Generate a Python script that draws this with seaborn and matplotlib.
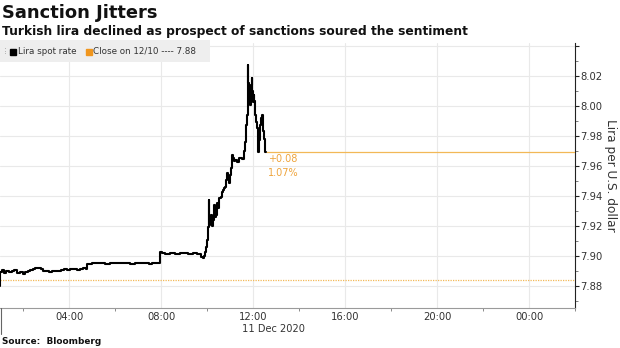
import matplotlib
matplotlib.use('Agg')
import matplotlib.pyplot as plt
import matplotlib.dates as mdates
from matplotlib.lines import Line2D
from matplotlib.patches import Rectangle
from matplotlib.ticker import FixedLocator, MultipleLocator
import seaborn as sns
import pandas as pd

# ---- data (11 Dec 2020, USD/TRY spot) ----
times = ["01:00", "01:01", "01:05", "01:10", "01:16", "01:24", "01:31", "01:37", "01:45", "01:52",
         "02:00", "02:06", "02:12", "02:18", "02:25", "02:32", "02:40", "02:47", "02:53", "03:00",
         "03:08", "03:15", "03:22", "03:30", "03:38", "03:46", "03:55", "04:03", "04:12", "04:20",
         "04:28", "04:36", "04:44", "04:47", "05:00", "05:10", "05:20", "05:34", "05:48", "06:00",
         "06:14", "06:26", "06:40", "06:52", "07:05", "07:18", "07:28", "07:36", "07:45", "07:55",
         "07:57", "08:03", "08:10", "08:17", "08:23", "08:30", "08:36", "08:43", "08:50", "08:57",
         "09:03", "09:10", "09:16", "09:23", "09:29", "09:35", "09:39", "09:44", "09:50", "09:53",
         "09:55", "09:57", "10:00", "10:02", "10:04", "10:06", "10:08", "10:10", "10:13", "10:16",
         "10:19", "10:21", "10:24", "10:27", "10:29", "10:32", "10:36", "10:39", "10:42", "10:44",
         "10:47", "10:50", "10:52", "10:55", "10:57", "11:00", "11:03", "11:05", "11:07", "11:10",
         "11:13", "11:16", "11:19", "11:21", "11:24", "11:26", "11:30", "11:34", "11:37", "11:39",
         "11:42", "11:44", "11:46", "11:47", "11:48", "11:50", "11:52", "11:54", "11:55", "11:57",
         "11:58", "12:00", "12:02", "12:03", "12:05", "12:08", "12:10", "12:13", "12:16", "12:18",
         "12:21", "12:23", "12:26", "12:29", "12:31", "12:34"]
rates = [7.8800, 7.8893, 7.8907, 7.8887, 7.8900, 7.8893, 7.8900, 7.8907, 7.8887, 7.8893,
         7.8880, 7.8890, 7.8900, 7.8907, 7.8913, 7.8920, 7.8917, 7.8910, 7.8900, 7.8897,
         7.8890, 7.8897, 7.8900, 7.8903, 7.8907, 7.8910, 7.8907, 7.8913, 7.8910, 7.8907,
         7.8913, 7.8917, 7.8910, 7.8947, 7.8950, 7.8953, 7.8950, 7.8947, 7.8950, 7.8953,
         7.8950, 7.8953, 7.8947, 7.8950, 7.8953, 7.8950, 7.8947, 7.8950, 7.8953, 7.8950,
         7.9027, 7.9020, 7.9010, 7.9013, 7.9020, 7.9017, 7.9010, 7.9013, 7.9017, 7.9023,
         7.9020, 7.9013, 7.9013, 7.9017, 7.9017, 7.9010, 7.9013, 7.8993, 7.8987, 7.9000,
         7.9027, 7.9060, 7.9107, 7.9193, 7.9373, 7.9207, 7.9250, 7.9273, 7.9200, 7.9240,
         7.9340, 7.9260, 7.9273, 7.9353, 7.9320, 7.9387, 7.9390, 7.9427, 7.9440, 7.9453,
         7.9460, 7.9507, 7.9553, 7.9520, 7.9487, 7.9540, 7.9587, 7.9673, 7.9650, 7.9633,
         7.9640, 7.9640, 7.9627, 7.9627, 7.9650, 7.9653, 7.9647, 7.9647, 7.9700, 7.9760,
         7.9873, 7.9940, 8.0100, 8.0273, 8.0150, 8.0073, 8.0007, 8.0080, 8.0140, 8.0187,
         8.0100, 8.0027, 8.0073, 8.0030, 7.9940, 7.9893, 7.9853, 7.9693, 7.9773, 7.9873,
         7.9920, 7.9940, 7.9833, 7.9780, 7.9693, 7.9693]
close_prev = 7.8843
close_label = "Close on 12/10 ---- 7.88"
series_label = "Lira spot rate"
change_text = "+0.08"
pct_text = "1.07%"
y_ticks = [7.88, 7.90, 7.92, 7.94, 7.96, 7.98, 8.00, 8.02, 8.04]
y_tick_labels = ["7.88", "7.90", "7.92", "7.94", "7.96", "7.98", "8.00", "8.02", ""]
x_start = "2020-12-11 01:00"
x_end = "2020-12-12 02:00"
date_label = "11 Dec 2020"

sns.set_theme(style="white")
plt.rcParams['font.family'] = ['DejaVu Sans']

ORANGE_TXT = '#eea43c'
ORANGE_LINE = '#f2b857'
ORANGE_MARK = '#f0961e'
TXT = '#333333'

df = pd.DataFrame({
    'time': pd.to_datetime(["2020-12-11 " + t for t in times]),
    'rate': rates,
})

W, H = 620, 348
fig = plt.figure(figsize=(W / 100, H / 100), dpi=100)
ax_l, ax_r, ax_t, ax_b = 0, 575, 43, 308
ax = fig.add_axes([ax_l / W, 1 - ax_b / H, (ax_r - ax_l) / W, (ax_b - ax_t) / H])

sns.lineplot(data=df, x='time', y='rate', ax=ax, color='black', lw=1.5,
             drawstyle='steps-post', estimator=None, legend=False, zorder=5)

x0, x1 = pd.Timestamp(x_start), pd.Timestamp(x_end)
ax.set_xlim(x0, x1)
ax.set_ylim(7.8653, 8.0420)

# reference lines
ax.axhline(close_prev, color=ORANGE_LINE, lw=0.9, ls=(0, (1, 1)), zorder=3)
last_t = df['time'].iloc[-1]
last_v = df['rate'].iloc[-1]
ax.hlines(last_v, last_t, x1, color=ORANGE_LINE, lw=0.9, zorder=3)
ax.annotate(change_text, xy=(last_t, last_v), xytext=(2 * 0.72, -7 * 0.72),
            textcoords='offset points', ha='left', va='center', fontsize=7, color=ORANGE_TXT)
ax.annotate(pct_text, xy=(last_t, last_v), xytext=(2 * 0.72, -21 * 0.72),
            textcoords='offset points', ha='left', va='center', fontsize=7, color=ORANGE_TXT)

# axes styling
ax.yaxis.tick_right()
ax.yaxis.set_label_position('right')
ax.set_yticks(y_ticks)
ax.set_yticklabels(y_tick_labels)
ax.yaxis.set_minor_locator(MultipleLocator(0.01))
ax.tick_params(axis='y', which='major', length=3, width=0.8, color='#222222', labelsize=7.2,
               pad=1, labelcolor=TXT, right=True, left=False)
ax.tick_params(axis='y', which='minor', length=2, width=0.6, color='#666666', right=True, left=False)

ax.xaxis.set_major_locator(mdates.HourLocator(byhour=[0, 4, 8, 12, 16, 20]))
ax.xaxis.set_minor_locator(mdates.HourLocator(byhour=[2, 6, 10, 14, 18, 22]))
ax.xaxis.set_major_formatter(mdates.DateFormatter('%H:%M'))
ax.tick_params(axis='x', which='major', length=0, labelsize=7.2, pad=3, labelcolor=TXT, bottom=True)
ax.tick_params(axis='x', which='minor', length=2, width=0.6, color='#777777', bottom=True)

ax.grid(True, which='major', axis='both', color='#e9e9e9', lw=0.8, zorder=0)
ax.set_axisbelow(True)

for s in ['left', 'top']:
    ax.spines[s].set_visible(False)
ax.spines['right'].set_color('#222222')
ax.spines['right'].set_linewidth(0.8)
ax.spines['bottom'].set_color('#9a9a9a')
ax.spines['bottom'].set_linewidth(0.8)

ax.set_xlabel('')
ax.set_ylabel('Lira per U.S. dollar', rotation=270, fontsize=8.7, color=TXT, labelpad=10)

ax.text(273 / 575, -21 / (ax_b - ax_t), date_label, transform=ax.transAxes,
        ha='center', va='center', fontsize=7.1, color=TXT)

# legend box (drawn in figure coordinates)
fig.add_artist(Rectangle((0, 1 - 62 / H), 210 / W, 22 / H, transform=fig.transFigure,
                         facecolor='#eeeeee', edgecolor='none', zorder=6))
leg_y = 1 - 51.5 / H
fig.text(5 / W, leg_y, '\u205d', fontsize=6.5, color='#9a9a9a', ha='center', va='center', zorder=7)
fig.add_artist(Line2D([12.5 / W], [leg_y], marker='s', markersize=4.2, color='black', ls='',
                      transform=fig.transFigure, zorder=7))
fig.text(18 / W, leg_y, series_label, fontsize=6.3, color=TXT, ha='left', va='center', zorder=7)
fig.add_artist(Line2D([88.5 / W], [leg_y], marker='s', markersize=4.2, color=ORANGE_MARK, ls='',
                      transform=fig.transFigure, zorder=7))
fig.text(93 / W, leg_y, close_label, fontsize=6.3, color=TXT, ha='left', va='center', zorder=7)

# separator tick at left edge
fig.add_artist(Line2D([1 / W, 1 / W], [1 - 308 / H, 1 - 334 / H], transform=fig.transFigure,
                      color='#666666', lw=0.8))

# titles & source
fig.text(2 / W, 1 - 13 / H, 'Sanction Jitters', fontsize=12.9, weight='bold', va='center', ha='left', color='#111111')
fig.text(2 / W, 1 - 31 / H, 'Turkish lira declined as prospect of sanctions soured the sentiment',
         fontsize=8.8, weight='bold', va='center', ha='left', color='#111111')
fig.text(2 / W, 1 - 341 / H, 'Source:  Bloomberg', fontsize=6.4, weight='bold', va='center', ha='left', color='#111111')

fig.savefig('out.png', dpi=100)
